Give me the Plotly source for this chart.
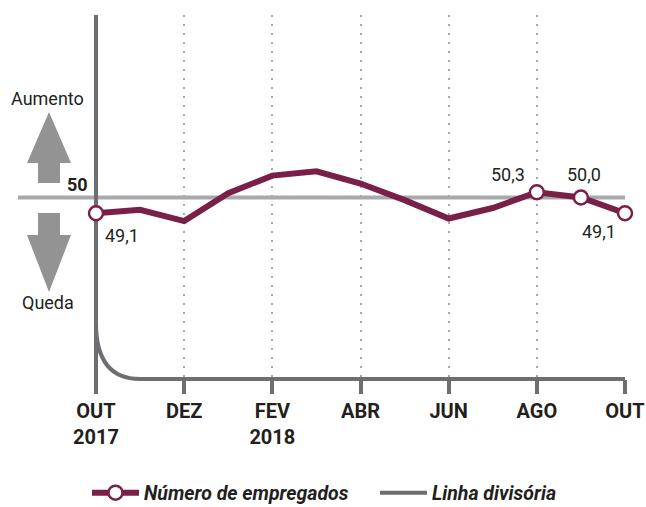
import plotly.graph_objects as go

# ---- data ----
months = ["OUT", "NOV", "DEZ", "JAN", "FEV", "MAR", "ABR", "MAI", "JUN", "JUL", "AGO", "SET", "OUT"]
values = [49.1, 49.3, 48.65, 50.25, 51.25, 51.5, 50.8, 49.85, 48.8, 49.4, 50.3, 50.0, 49.1]
tick_idx = [0, 2, 4, 6, 8, 10, 12]
tick_text = ["OUT<br>2017", "DEZ", "FEV<br>2018", "ABR", "JUN", "AGO", "OUT"]
marked_idx = [0, 10, 11, 12]
label_text = {0: "49,1", 10: "50,3", 11: "50,0", 12: "49,1"}
reference_value = 50

# ---- style ----
FONT = "Roboto, Liberation Sans, sans-serif"
MAROON = "#7a1f47"
DARK = "#231f20"
AXIS_GRAY = "#6d6e71"
LIGHT_GRAY = "#a7a9ac"
ARROW_GRAY = "#939393"

W, H = 646, 507
L, R, T, B = 96, 625, 15, 379


def px(x):
    return (x - L) / (R - L)


def py(y):
    return (B - y) / (B - T)


x = list(range(len(months)))
mcolor = ["white" if i in marked_idx else "rgba(0,0,0,0)" for i in x]
mline = [MAROON if i in marked_idx else "rgba(0,0,0,0)" for i in x]

fig = go.Figure()
fig.add_trace(go.Scatter(
    x=x, y=values, mode="lines+markers", name="Número de empregados",
    line=dict(color=MAROON, width=6),
    marker=dict(size=14, color=mcolor, line=dict(color=mline, width=2.5)),
    cliponaxis=False, hoverinfo="skip", legend="legend",
))
fig.add_trace(go.Scatter(
    x=[None], y=[None], mode="lines", name="Linha divisória",
    line=dict(color=AXIS_GRAY, width=4), legend="legend2",
))

shapes = []
# reference line at 50
shapes.append(dict(type="line", xref="paper", yref="y", x0=px(18), x1=1,
                   y0=reference_value, y1=reference_value,
                   line=dict(color=LIGHT_GRAY, width=4), layer="between"))
# vertical axis line
shapes.append(dict(type="line", xref="paper", yref="paper", x0=0, x1=0,
                   y0=py(15), y1=py(393),
                   line=dict(color=AXIS_GRAY, width=4), layer="between"))
# dividing line (curve + baseline)
path = (f"M {px(96)},{py(323)} Q {px(96)},{py(379)} {px(140)},{py(379)} "
        f"L 1,{py(379)}")
shapes.append(dict(type="path", xref="paper", yref="paper", path=path,
                   line=dict(color=AXIS_GRAY, width=4), layer="between"))
# arrows
up = (f"M {px(49)},{py(112)} L {px(71)},{py(163)} L {px(60)},{py(163)} "
      f"L {px(60)},{py(183)} L {px(38)},{py(183)} L {px(38)},{py(163)} "
      f"L {px(27)},{py(163)} Z")
down = (f"M {px(49)},{py(292)} L {px(71)},{py(235)} L {px(60)},{py(235)} "
        f"L {px(60)},{py(213)} L {px(38)},{py(213)} L {px(38)},{py(235)} "
        f"L {px(27)},{py(235)} Z")
for p in (up, down):
    shapes.append(dict(type="path", xref="paper", yref="paper", path=p,
                       fillcolor=ARROW_GRAY, line=dict(width=0)))

annotations = [
    dict(xref="paper", yref="paper", x=px(47), y=py(99), text="Aumento",
         xanchor="center", yanchor="middle",
         showarrow=False, font=dict(family=FONT, size=18, color=DARK)),
    dict(xref="paper", yref="paper", x=px(48), y=py(302), text="Queda",
         xanchor="center", yanchor="middle",
         showarrow=False, font=dict(family=FONT, size=18, color=DARK)),
    dict(xref="paper", yref="y", x=px(90), y=reference_value, yshift=13,
         text="<b>50</b>", showarrow=False, xanchor="right",
         font=dict(family=FONT, size=18, color=DARK)),
]
offsets = {0: (7, -22, "left"), 10: (-29, 18, "center"),
           11: (3, 23, "center"), 12: (-26, -18, "center")}
for i in marked_idx:
    dx, dy, xa = offsets[i]
    annotations.append(dict(x=i, y=values[i], xref="x", yref="y",
                            text=label_text[i], showarrow=False,
                            xshift=dx, yshift=dy, xanchor=xa,
                            font=dict(family=FONT, size=18, color=DARK)))

y_top = reference_value + (197.5 - T) / 17.5
y_bot = reference_value - (B - 197.5) / 17.5

legend_font = dict(family=FONT, size=19.5, color=DARK, weight="bold",
                   style="italic")
fig.update_layout(
    width=W, height=H,
    margin=dict(l=L, r=W - R, t=T, b=H - B, autoexpand=False),
    paper_bgcolor="white", plot_bgcolor="white",
    font=dict(family=FONT, color=DARK),
    showlegend=True,
    legend=dict(orientation="h", xref="container", yref="container",
                x=87 / W, xanchor="left", y=(H - 493) / H, yanchor="middle",
                font=legend_font, itemwidth=47),
    legend2=dict(orientation="h", xref="container", yref="container",
                 x=375 / W, xanchor="left", y=(H - 493) / H, yanchor="middle",
                 font=legend_font, itemwidth=47),
    shapes=shapes, annotations=annotations,
    xaxis=dict(range=[0, 12], tickvals=tick_idx, ticktext=tick_text,
               showgrid=True, gridcolor=LIGHT_GRAY, gridwidth=2,
               griddash="2px,7px", zeroline=False, showline=False,
               ticks="outside", ticklen=14, tickwidth=4, tickcolor=AXIS_GRAY,
               ticklabeloverflow="allow", automargin=False,
               tickfont=dict(family=FONT, size=20, color=DARK, weight="bold"),
               fixedrange=True),
    yaxis=dict(range=[y_bot, y_top], showgrid=False, zeroline=False,
               showline=False, showticklabels=False, ticks="",
               automargin=False, fixedrange=True),
)

fig.write_html("out.html", config={"displayModeBar": False},
               post_script="document.body.style.margin='0px';"
                           "document.documentElement.style.overflow='hidden';")
